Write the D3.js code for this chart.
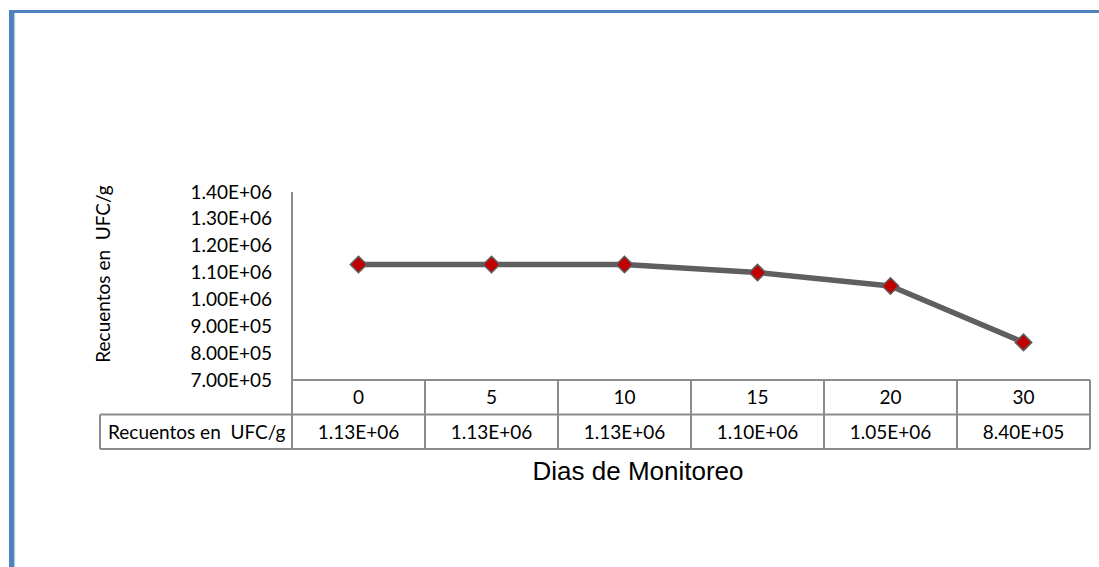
<!DOCTYPE html>
<html>
<head>
<meta charset="utf-8">
<script src="https://cdn.jsdelivr.net/npm/d3@7"></script>
<style>
  html, body { margin: 0; padding: 0; background: #ffffff; }
  svg { display: block; }
</style>
</head>
<body>
<svg id="chart" width="1099" height="567"></svg>
<script>
// Monitoring days and plate counts (UFC/g)
const days = ["0", "5", "10", "15", "20", "30"];
const counts = [1.13e6, 1.13e6, 1.13e6, 1.10e6, 1.05e6, 8.40e5];
const yTicks = [7.0e5, 8.0e5, 9.0e5, 1.0e6, 1.1e6, 1.2e6, 1.3e6, 1.4e6];
const seriesName = "Recuentos en  UFC/g";
const xTitle = "Dias de Monitoreo";

const W = 1099, H = 567;
const plot = { left: 292, right: 1090, top: 192, bottom: 380 };
const rowH = 34.5;
const legendLeft = 100;
const bodyFont = "Lato, 'Open Sans', sans-serif";
const fs = 19;

const svg = d3.select("#chart");

// Frame: thick blue edges on top and left
svg.append("rect").attr("x", 9).attr("y", 10).attr("width", W - 9).attr("height", 3).attr("fill", "#4f81bd");
svg.append("rect").attr("x", 9).attr("y", 10).attr("width", 5).attr("height", H - 10).attr("fill", "#4f81bd");
svg.append("rect").attr("x", 14).attr("y", 13).attr("width", 1.2).attr("height", H - 13).attr("fill", "#b9cde5");

const x = d3.scaleBand().domain(days).range([plot.left, plot.right]);
const y = d3.scaleLinear().domain([7.0e5, 1.4e6]).range([plot.bottom, plot.top]);

// Scientific notation like 1.13E+06
function sci(v) {
  const [m, e] = v.toExponential(2).split("e");
  const n = parseInt(e, 10);
  return m + "E" + (n < 0 ? "-" : "+") + String(Math.abs(n)).padStart(2, "0");
}

// Y axis with labels only
const yAxis = d3.axisLeft(y).tickValues(yTicks).tickSize(0).tickPadding(20).tickFormat(sci);
const gy = svg.append("g").attr("transform", `translate(${plot.left},0)`).call(yAxis);
gy.select(".domain").remove();
gy.selectAll("text").attr("font-family", bodyFont).attr("font-size", fs).attr("fill", "#000");

const gridColor = "#8c8c8c";
const tableBottom = plot.bottom + 2 * rowH;

// Vertical axis line running down through the data table
svg.append("line").attr("x1", plot.left).attr("x2", plot.left)
  .attr("y1", plot.top).attr("y2", tableBottom)
  .attr("stroke", gridColor).attr("stroke-width", 2);

// Data table grid
svg.append("line").attr("x1", plot.left).attr("x2", plot.right)
  .attr("y1", plot.bottom).attr("y2", plot.bottom)
  .attr("stroke", gridColor).attr("stroke-width", 2);
svg.append("line").attr("x1", legendLeft).attr("x2", plot.right)
  .attr("y1", plot.bottom + rowH).attr("y2", plot.bottom + rowH)
  .attr("stroke", gridColor).attr("stroke-width", 2);
svg.append("line").attr("x1", legendLeft).attr("x2", plot.right)
  .attr("y1", tableBottom).attr("y2", tableBottom)
  .attr("stroke", gridColor).attr("stroke-width", 2);
svg.append("line").attr("x1", legendLeft).attr("x2", legendLeft)
  .attr("y1", plot.bottom + rowH).attr("y2", tableBottom)
  .attr("stroke", gridColor).attr("stroke-width", 2);
svg.selectAll("line.col").data(days).join("line").attr("class", "col")
  .attr("x1", d => x(d) + x.bandwidth()).attr("x2", d => x(d) + x.bandwidth())
  .attr("y1", plot.bottom).attr("y2", tableBottom)
  .attr("stroke", gridColor).attr("stroke-width", 2);

// Category row
svg.selectAll("text.cat").data(days).join("text").attr("class", "cat")
  .attr("x", d => x(d) + x.bandwidth() / 2).attr("y", plot.bottom + rowH / 2)
  .attr("dy", "0.36em").attr("text-anchor", "middle")
  .attr("font-family", bodyFont).attr("font-size", fs).text(d => d);

// Value row
svg.selectAll("text.val").data(counts).join("text").attr("class", "val")
  .attr("x", (d, i) => x(days[i]) + x.bandwidth() / 2).attr("y", plot.bottom + rowH * 1.5)
  .attr("dy", "0.36em").attr("text-anchor", "middle")
  .attr("font-family", bodyFont).attr("font-size", fs).text(d => sci(d));

svg.append("text").attr("x", legendLeft + 8).attr("y", plot.bottom + rowH * 1.5)
  .attr("dy", "0.36em").attr("font-family", bodyFont).attr("font-size", fs)
  .style("white-space", "pre").text(seriesName);

// Series line and diamond markers
const pts = counts.map((v, i) => [x(days[i]) + x.bandwidth() / 2, y(v)]);
svg.append("path").attr("d", d3.line()(pts)).attr("fill", "none")
  .attr("stroke", "#5f5f5f").attr("stroke-width", 5.5).attr("stroke-linejoin", "round");
const diamond = d3.symbol().type(d3.symbolSquare).size(135);
svg.selectAll("path.mk").data(pts).join("path").attr("class", "mk")
  .attr("d", diamond)
  .attr("transform", d => `translate(${d[0]},${d[1]}) rotate(45)`)
  .attr("fill", "#c00000").attr("stroke", "#5f5f5f").attr("stroke-width", 1.5);

// Axis titles
svg.append("text").attr("transform", "translate(110,274) rotate(-90)")
  .attr("text-anchor", "middle").attr("font-family", bodyFont).attr("font-size", fs)
  .style("white-space", "pre").text(seriesName);
svg.append("text").attr("x", 638).attr("y", 480).attr("text-anchor", "middle")
  .attr("font-family", "'Liberation Sans', Arial, sans-serif").attr("font-size", 26)
  .text(xTitle);
</script>
</body>
</html>
